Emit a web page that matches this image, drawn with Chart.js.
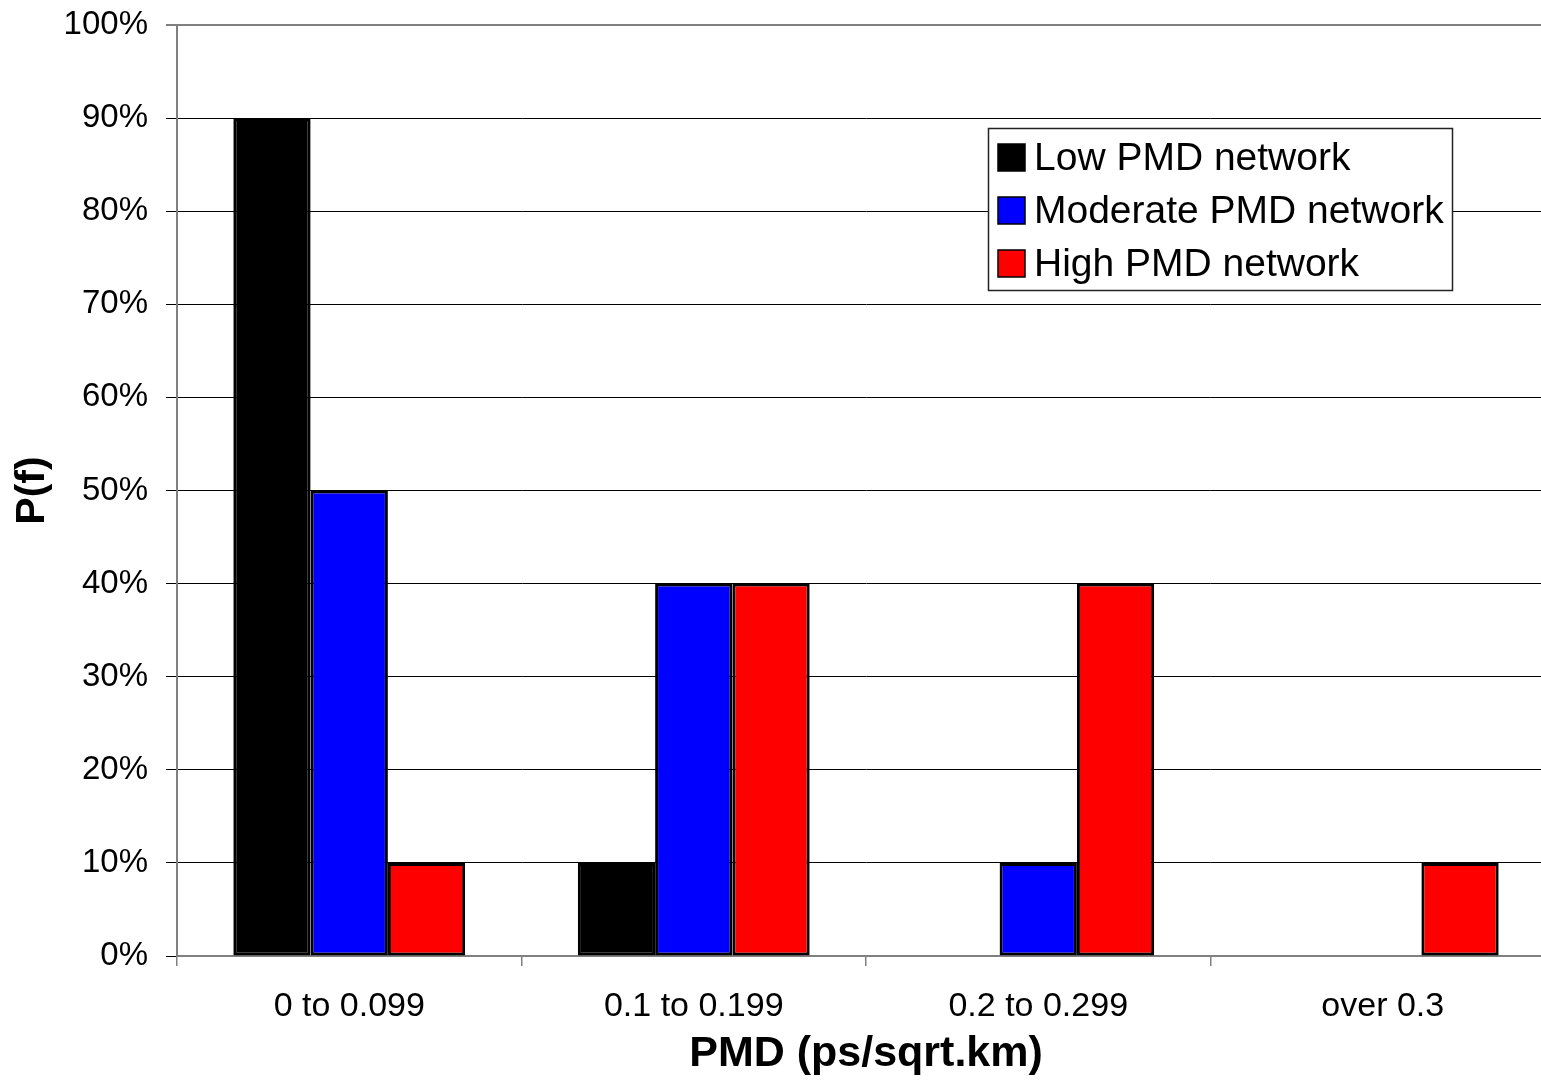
<!DOCTYPE html>
<html>
<head>
<meta charset="utf-8">
<title>PMD distribution</title>
<script src="https://cdn.jsdelivr.net/npm/chart.js@4/dist/chart.umd.min.js"></script>
<style>
  html, body { margin: 0; padding: 0; background: #fff; overflow: hidden; }
  #wrap { position: relative; width: 1560px; height: 1080px; }
</style>
</head>
<body>
<div id="wrap"><canvas id="pmd"></canvas></div>
<script>
const CATEGORIES = ['0 to 0.099', '0.1 to 0.199', '0.2 to 0.299', 'over 0.3'];
const LOW_PMD      = [90, 10, 0, 0];
const MODERATE_PMD = [50, 40, 10, 0];
const HIGH_PMD     = [10, 40, 40, 10];
const SERIES_NAMES = ['Low PMD network', 'Moderate PMD network', 'High PMD network'];
const Y_TICKS = [0, 10, 20, 30, 40, 50, 60, 70, 80, 90, 100];

const FONT = '"Liberation Sans", Arial, Helvetica, sans-serif';
const GREY = '#808080';

// legend box sits inside the plot, drawn by hand like the Excel one
const boxedLegend = {
  id: 'boxedLegend',
  afterDraw(chart) {
    const g = chart.ctx;
    const x = 988, y = 128, w = 464, h = 162, row = 53;
    g.save();
    g.fillStyle = '#fff';
    g.fillRect(x, y, w, h);
    g.strokeStyle = '#222';
    g.lineWidth = 1.5;
    g.strokeRect(x + 0.5, y + 0.5, w, h);
    g.font = '39px ' + FONT;
    g.textBaseline = 'middle';
    chart.data.datasets.forEach((ds, i) => {
      const cy = y + 30 + i * row;
      g.fillStyle = ds.backgroundColor;
      g.fillRect(x + 10, cy - 14, 27, 27);
      g.strokeStyle = '#000';
      g.lineWidth = 1.5;
      g.strokeRect(x + 10, cy - 14, 27, 27);
      g.fillStyle = '#000';
      g.fillText(ds.label, x + 46, cy + 1);
    });
    g.restore();
  }
};

const bar = (label, data, color) => ({
  label, data,
  backgroundColor: color,
  borderColor: '#000',
  borderWidth: 3,
  borderSkipped: false,
  categoryPercentage: 0.673,
  barPercentage: 1.0
});

new Chart(document.getElementById('pmd'), {
  type: 'bar',
  data: {
    labels: CATEGORIES,
    datasets: [
      bar(SERIES_NAMES[0], LOW_PMD, '#000000'),
      bar(SERIES_NAMES[1], MODERATE_PMD, '#0000ff'),
      bar(SERIES_NAMES[2], HIGH_PMD, '#ff0000')
    ]
  },
  options: {
    responsive: true,
    maintainAspectRatio: false,
    animation: false,
    layout: { padding: { top: 25, right: 5, left: 0, bottom: 0 } },
    plugins: { legend: { display: false }, tooltip: { enabled: false } },
    scales: {
      x: {
        offset: true,
        grid: { display: true, drawOnChartArea: false, drawTicks: true, tickLength: 10, color: GREY, lineWidth: 1.5, offset: true },
        border: { display: true, color: GREY, width: 2 },
        ticks: { color: '#000', font: { family: FONT, size: 34 }, padding: 20, maxRotation: 0 },
        title: {
          display: true, text: 'PMD (ps/sqrt.km)', color: '#000',
          font: { family: FONT, size: 43, weight: 'bold' },
          padding: { top: 0, bottom: 0 }
        },
        afterFit: (s) => { s.height = 124; s.paddingLeft = 0; s.paddingRight = 0; }
      },
      y: {
        min: 0, max: 100,
        afterBuildTicks: (s) => { s.ticks = Y_TICKS.map(v => ({ value: v })); },
        grid: {
          color: (c) => c.tick && c.tick.value === 100 ? GREY : '#000',
          lineWidth: (c) => c.tick && c.tick.value === 100 ? 2 : 1,
          tickLength: 11
        },
        border: { display: true, color: GREY, width: 2 },
        ticks: {
          color: '#000', font: { family: FONT, size: 33 }, padding: 18,
          callback: (v) => v + '%'
        },
        title: {
          display: true, text: 'P(f)', color: '#000',
          font: { family: FONT, size: 41, weight: 'bold' },
          padding: { top: 8, bottom: 0 }
        },
        afterFit: (s) => { s.width = 177; s.paddingTop = 0; s.paddingBottom = 0; }
      }
    }
  },
  plugins: [boxedLegend]
});
</script>
</body>
</html>
